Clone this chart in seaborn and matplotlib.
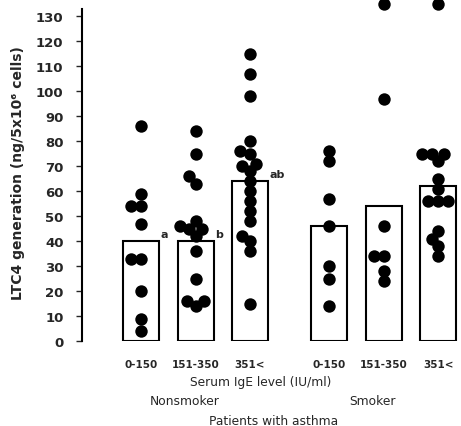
import numpy as np
import pandas as pd
import seaborn as sns
import matplotlib.pyplot as plt

# groups along the x axis
smoking = ["Nonsmoker", "Nonsmoker", "Nonsmoker", "Smoker", "Smoker", "Smoker"]
ige_levels = ["0-150", "151-350", "351<", "0-150", "151-350", "351<"]
bar_heights = [40, 40, 64, 46, 54, 62]
bar_letters = ["a", "b", "ab", "", "", ""]

# individual LTC4 values
ns_low = [86, 59, 54, 54, 47, 33, 33, 20, 9, 4]
ns_mid = [84, 75, 66, 63, 48, 46, 45, 45, 42, 36, 25, 16, 16, 14]
ns_high = [115, 107, 98, 80, 76, 75, 71, 70, 68, 64, 60, 56, 52, 48, 42, 40, 36, 15]
sm_low = [76, 72, 57, 46, 30, 25, 14]
sm_mid = [135, 97, 46, 34, 34, 28, 24]
sm_high = [135, 75, 75, 75, 72, 65, 61, 56, 56, 56, 44, 41, 38, 34]
dots = [ns_low, ns_mid, ns_high, sm_low, sm_mid, sm_high]

# x position of each group: smokers shifted right to leave a gap
positions = [i + (0.45 if s == "Smoker" else 0) for i, s in enumerate(smoking)]

bars = pd.DataFrame({"pos": positions, "height": bar_heights})
rows = []
for p, vals in zip(positions, dots):
    for v in vals:
        rows.append({"pos": p, "ltc4": v})
pts = pd.DataFrame(rows)

sns.set_style("white")
plt.rcParams["font.family"] = ["DejaVu Sans"]

fig = plt.figure(figsize=(4.61, 4.27), dpi=100)
ax = fig.add_axes([82 / 461, 85 / 427, 1 - 82 / 461, 332 / 427])

sns.barplot(data=bars, x="pos", y="height", native_scale=True, orient="x",
            width=0.66, color="white", edgecolor="black", linewidth=1.5,
            saturation=1, ax=ax, zorder=1)
n_before = len(ax.collections)
# swarm laid out with smaller dots so they overlap like the original
sns.swarmplot(data=pts, x="pos", y="ltc4", native_scale=True, orient="x",
              color="black", size=6.8, linewidth=0, ax=ax, zorder=3,
              clip_on=False)

for p, h, lab in zip(positions, bar_heights, bar_letters):
    if lab:
        ax.text(p + 0.36, h + 3, lab, ha="left", va="center",
                fontsize=8, fontweight="bold")

ax.set_xlim(-1.083, 5.87)
ax.set_ylim(0, 133)
ax.set_yticks(np.arange(0, 131, 10))
ax.set_xticks(positions)
ax.set_xticklabels(ige_levels, fontsize=7.5, fontweight="bold")
ax.tick_params(axis="x", length=0, pad=13)
ax.tick_params(axis="y", length=4.3, width=1, pad=9, left=True)
for t in ax.get_yticklabels():
    t.set_fontsize(9.5)
    t.set_fontweight("bold")

for side in ["top", "right", "bottom"]:
    ax.spines[side].set_visible(False)
ax.spines["left"].set_linewidth(1.5)
ax.spines["left"].set_color("black")

ax.set_xlabel("")
ax.set_ylabel("LTC4 generation (ng/5x10\u2076 cells)", fontsize=10,
              fontweight="bold")
ax.yaxis.set_label_coords(-0.15, 0.51)

under = [("Serum IgE level (IU/ml)", 2.2, -29.5),
         ("Nonsmoker", 0.81, -43.2),
         ("Smoker", 4.24, -43.2),
         ("Patients with asthma", 2.44, -57)]
for txt, x, dy in under:
    ax.annotate(txt, xy=(x, 0), xycoords=("data", "axes fraction"),
                xytext=(0, dy), textcoords="offset points",
                ha="center", va="center", fontsize=8.8, annotation_clip=False)

# fix the swarm positions, then draw the dots at full size
fig.canvas.draw()
for coll in ax.collections[n_before:]:
    if "draw" in coll.__dict__:
        del coll.draw
    coll.set_sizes([80])

fig.savefig("out.png", dpi=100)
